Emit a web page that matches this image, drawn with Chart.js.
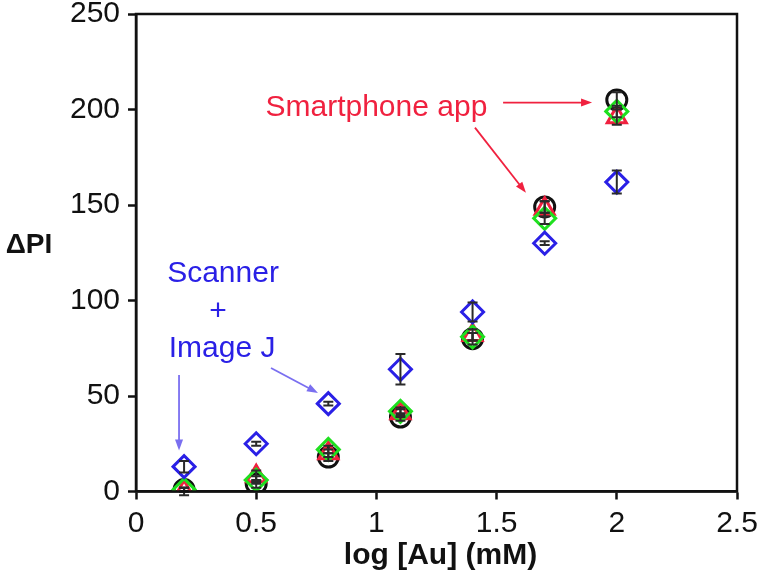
<!DOCTYPE html>
<html>
<head>
<meta charset="utf-8">
<script src="https://cdn.jsdelivr.net/npm/chart.js@4"></script>
<style>
  html, body { margin: 0; padding: 0; background: #fff; }
  #wrap { width: 764px; height: 585px; }
</style>
</head>
<body>
<div id="wrap"><canvas id="piChart"></canvas></div>
<script>
const logAu = [0.2, 0.5, 0.8, 1.1, 1.4, 1.7, 2.0];

// Scanner + Image J (blue open diamonds)
const scannerPI = [13, 25, 46, 64, 94, 130, 162];
const scannerErr = [3, 1, 1, 8, 5, 1, 6];
// smartphone app, three series
const greenPI = [1, 6, 22, 42, 81, 143, 199];
const greenErr = [1, 2, 2, 2, 2, 3, 3];
const redPI = [0, 8, 20, 41, 82, 148, 196];
const redErr = [2, 3, 2, 2, 3, 4, 4];
const blackPI = [1, 4, 18, 39, 80, 149, 205];
const blackErr = [1, 2, 2, 2, 3, 3, 4];

const xTicks = [0, 0.5, 1, 1.5, 2, 2.5];
const yTicks = [0, 50, 100, 150, 200, 250];

const FONT = '"Liberation Sans", Arial, Helvetica, sans-serif';
const RED = '#f0213f';
const BLUE = '#2a20e6';
const BLUE_ARROW = '#7a6ff0';
const GREEN = '#1fe01f';

function pts(ys) {
    return logAu.map((x, i) => ({ x: x, y: ys[i] }));
}

const errors = [scannerErr, greenErr, redErr, blackErr];

const data = {
    datasets: [
        { label: 'Scanner', data: pts(scannerPI), pointStyle: 'rectRot',
          pointRadius: 11, borderColor: BLUE, backgroundColor: 'rgba(0,0,0,0)', pointBorderWidth: 3 },
        { label: 'Green', data: pts(greenPI), pointStyle: 'rectRot',
          pointRadius: 11, borderColor: GREEN, backgroundColor: 'rgba(0,0,0,0)', pointBorderWidth: 3 },
        { label: 'Red', data: pts(redPI), pointStyle: 'triangle',
          pointRadius: 11, borderColor: RED, backgroundColor: 'rgba(0,0,0,0)', pointBorderWidth: 3 },
        { label: 'Black', data: pts(blackPI), pointStyle: 'circle',
          pointRadius: 10, borderColor: '#111', backgroundColor: 'rgba(0,0,0,0)', pointBorderWidth: 3 },
    ]
};

// notes in data units
const notes = [
    { text: 'Smartphone app', x: 1.0, y: 201, color: RED },
    { text: 'Scanner', x: 0.362, y: 114, color: BLUE },
    { text: '+', x: 0.341, y: 94, color: BLUE },
    { text: 'Image J', x: 0.358, y: 75, color: BLUE },
];
const arrows = [
    { from: [1.527, 203.6], to: [1.897, 203.6], color: RED },
    { from: [1.41, 190.5], to: [1.622, 156.4], color: RED },
    { from: [0.179, 61], to: [0.179, 21.5], color: BLUE_ARROW },
    { from: [0.5616, 64.7], to: [0.757, 51.6], color: BLUE_ARROW },
];

const extras = {
    id: 'extras',
    afterDatasetsDraw(chart) {
        const ctx = chart.ctx;
        const xs = chart.scales.x, ys = chart.scales.y;
        const a = chart.chartArea;
        ctx.save();
        // error bars
        ctx.strokeStyle = '#2a2a2a';
        ctx.lineWidth = 2;
        chart.data.datasets.forEach((ds, k) => {
            ds.data.forEach((p, i) => {
                const e = errors[k][i];
                const px = xs.getPixelForValue(p.x);
                const y1 = ys.getPixelForValue(p.y - e);
                const y2 = ys.getPixelForValue(p.y + e);
                ctx.beginPath();
                ctx.moveTo(px, y1); ctx.lineTo(px, y2);
                ctx.moveTo(px - 5, y1); ctx.lineTo(px + 5, y1);
                ctx.moveTo(px - 5, y2); ctx.lineTo(px + 5, y2);
                ctx.stroke();
            });
        });
        // frame
        ctx.strokeStyle = '#111';
        ctx.lineWidth = 2.5;
        ctx.strokeRect(a.left, a.top, a.right - a.left, a.bottom - a.top);
        // notes
        ctx.font = '30px ' + FONT;
        ctx.textAlign = 'center';
        ctx.textBaseline = 'middle';
        notes.forEach(n => {
            ctx.fillStyle = n.color;
            ctx.fillText(n.text, xs.getPixelForValue(n.x), ys.getPixelForValue(n.y));
        });
        // arrows
        arrows.forEach(ar => {
            const x1 = xs.getPixelForValue(ar.from[0]), y1 = ys.getPixelForValue(ar.from[1]);
            const x2 = xs.getPixelForValue(ar.to[0]), y2 = ys.getPixelForValue(ar.to[1]);
            const ang = Math.atan2(y2 - y1, x2 - x1);
            ctx.strokeStyle = ar.color;
            ctx.fillStyle = ar.color;
            ctx.lineWidth = 1.8;
            ctx.beginPath();
            ctx.moveTo(x1, y1);
            ctx.lineTo(x2 - 8 * Math.cos(ang), y2 - 8 * Math.sin(ang));
            ctx.stroke();
            ctx.beginPath();
            ctx.moveTo(x2, y2);
            ctx.lineTo(x2 - 11 * Math.cos(ang) + 4 * Math.sin(ang), y2 - 11 * Math.sin(ang) - 4 * Math.cos(ang));
            ctx.lineTo(x2 - 11 * Math.cos(ang) - 4 * Math.sin(ang), y2 - 11 * Math.sin(ang) + 4 * Math.cos(ang));
            ctx.closePath();
            ctx.fill();
        });
        // axis titles
        ctx.fillStyle = '#111';
        ctx.font = 'bold 30px ' + FONT;
        ctx.fillText('log [Au] (mM)', (a.left + a.right) / 2 + 4, a.bottom + 64);
        ctx.font = 'bold 28px ' + FONT;
        ctx.fillText('\u0394PI', a.left - 107, ys.getPixelForValue(129));
        ctx.restore();
    }
};

const config = {
    type: 'scatter',
    data: data,
    plugins: [extras],
    options: {
        responsive: true,
        maintainAspectRatio: false,
        animation: false,
        layout: { padding: { left: 0, top: 14, right: 27, bottom: 0 } },
        plugins: {
            legend: { display: false },
            tooltip: { enabled: false },
        },
        scales: {
            x: {
                type: 'linear',
                min: 0,
                max: 2.5,
                afterBuildTicks: s => { s.ticks = xTicks.map(v => ({ value: v })); },
                afterFit: s => { s.height = 93.5; s.paddingLeft = 0; s.paddingRight = 0; },
                grid: { drawOnChartArea: false, tickLength: 8, tickWidth: 2.5, tickColor: '#111' },
                border: { color: '#111', width: 2.5 },
                ticks: { color: '#111', padding: 6, font: { size: 30, family: FONT },
                         callback: v => String(v) },
            },
            y: {
                min: 0,
                max: 250,
                afterBuildTicks: s => { s.ticks = yTicks.map(v => ({ value: v })); },
                afterFit: s => { s.width = 136; s.paddingTop = 0; s.paddingBottom = 0; },
                grid: { drawOnChartArea: false, tickLength: 8, tickWidth: 2.5, tickColor: '#111' },
                border: { color: '#111', width: 2.5 },
                ticks: { color: '#111', padding: 8, font: { size: 30, family: FONT },
                         callback: v => String(v) },
            },
        },
    },
};

const piChart = new Chart(document.getElementById('piChart'), config);
</script>
</body>
</html>
